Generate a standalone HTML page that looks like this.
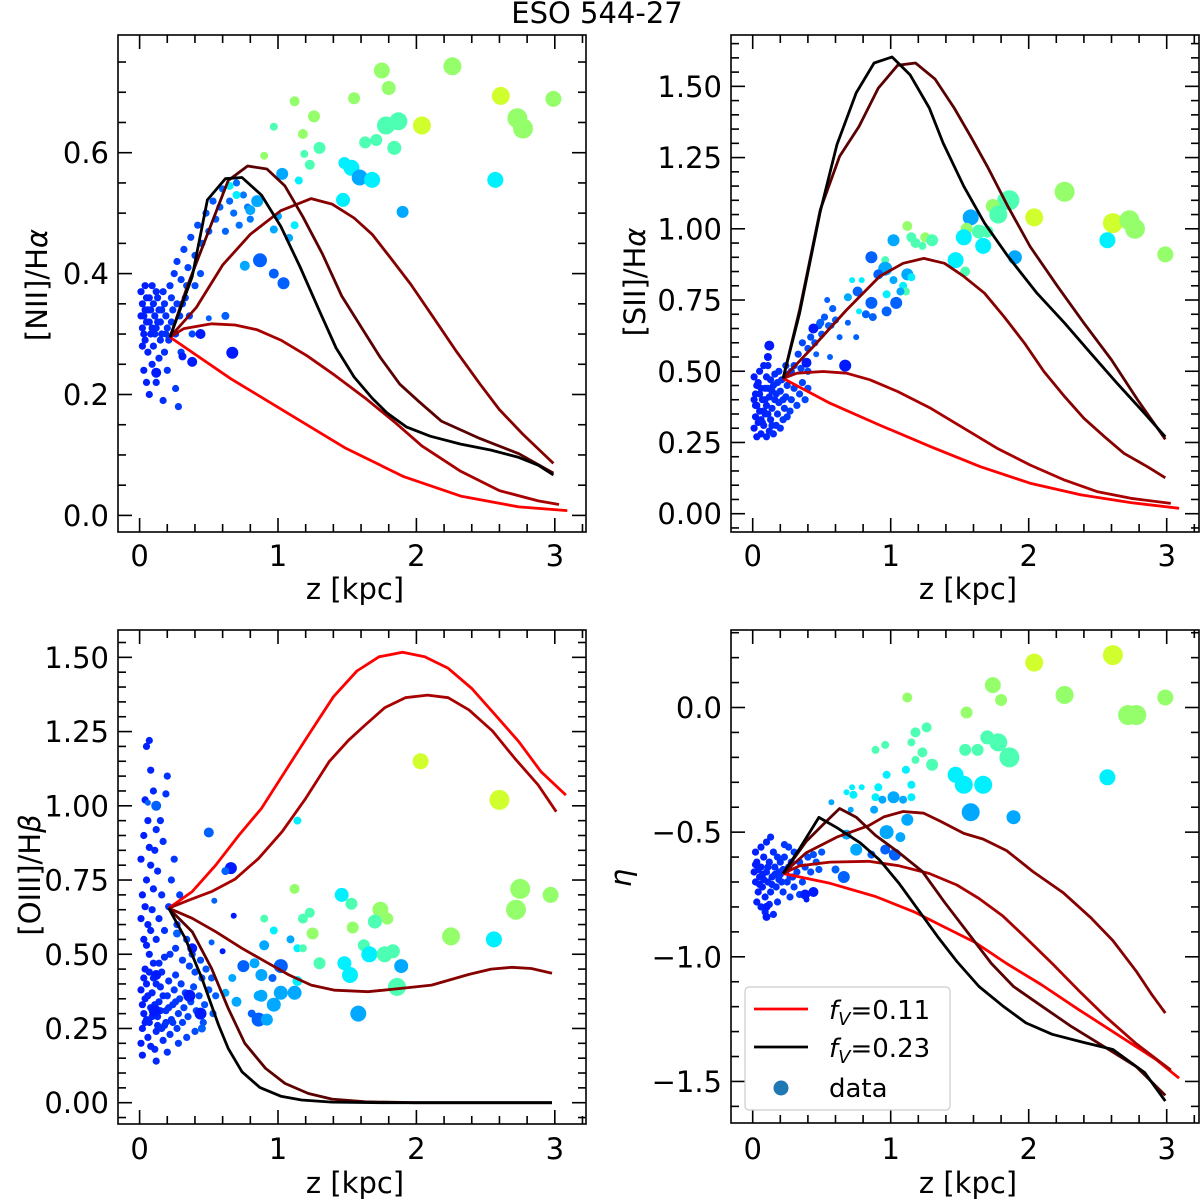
<!DOCTYPE html>
<html><head><meta charset="utf-8"><style>
html,body{margin:0;padding:0;background:#fff;}
svg{display:block;font-family:"DejaVu Sans","Liberation Sans",sans-serif;}
</style></head><body>
<svg id="fig" width="1200" height="1202" viewBox="0 0 1200 1202" xmlns="http://www.w3.org/2000/svg">
<text x="597" y="23" font-size="29" text-anchor="middle">ESO 544-27</text>
</svg>
<script>
// ---------- DATA ----------
// sparse points: [z, value, markerRadius, colourLevel]
const B=0.15,b=0.22,d=0.29,C=0.36,T=0.45,G=0.52,Y=0.58;
const n2Points=[[1.75,0.736,8,G],[2.26,0.743,9,G],[1.80,0.707,7,G],[2.61,0.694,9,Y],[2.99,0.689,8,G],[1.12,0.685,5,G],[1.55,0.690,6,G],[2.73,0.657,10,G],[2.77,0.640,10,G],[2.04,0.645,9,Y],[1.87,0.652,9,T],[1.78,0.645,9,T],[1.26,0.660,6,G],[0.97,0.643,4,T],[1.18,0.631,5,G],[1.71,0.621,6,T],[1.63,0.617,6,T],[1.84,0.608,7,T],[1.30,0.608,6,T],[1.19,0.598,4,T],[0.90,0.595,4,G],[1.23,0.580,5,T],[1.48,0.583,6,C],[1.53,0.575,8,C],[1.59,0.559,8,d],[1.68,0.555,8,C],[2.57,0.555,8,C],[1.03,0.565,6,d],[1.15,0.554,4,C],[1.47,0.522,7,C],[1.90,0.502,6,d],[1.12,0.480,4,C],[0.87,0.422,7,b],[0.97,0.400,5,b],[1.04,0.384,6,b],[0.76,0.413,5,d],[0.67,0.269,6,B],[0.44,0.300,5,B],[0.38,0.254,5,B],[0.31,0.263,4,B],[0.12,0.236,5,B],[1.08,0.459,4,d],[0.97,0.473,4,d],[0.62,0.330,4,b],[0.50,0.326,3,b],[0.85,0.520,6,d],[0.80,0.505,5,d],[0.70,0.530,4,C],[0.65,0.545,4,C],[1.00,0.495,4,d]];
const s2Points=[[2.26,1.13,10,G],[2.04,1.04,9,Y],[2.61,1.02,10,Y],[2.73,1.03,10,G],[2.77,1.00,10,G],[2.57,0.96,8,C],[2.99,0.91,8,G],[1.86,1.10,10,T],[1.83,1.10,8,T],[1.74,1.08,7,G],[1.78,1.05,9,T],[1.58,1.04,8,d],[1.55,1.00,6,G],[1.64,0.99,7,T],[1.70,0.99,6,T],[1.53,0.97,8,C],[1.67,0.94,8,C],[1.90,0.90,7,d],[1.47,0.89,8,C],[1.54,0.85,5,T],[1.12,1.01,5,G],[1.02,0.96,6,d],[1.15,0.97,5,T],[1.18,0.95,5,T],[1.25,0.97,5,G],[1.30,0.96,6,T],[1.23,0.94,4,T],[0.86,0.90,6,b],[0.96,0.89,4,T],[0.96,0.86,7,d],[0.91,0.84,5,b],[1.02,0.82,4,d],[1.12,0.84,6,d],[1.15,0.83,4,C],[1.09,0.80,4,C],[1.11,0.78,4,T],[1.07,0.78,4,d],[0.97,0.77,4,C],[0.76,0.78,5,b],[0.69,0.76,4,d],[0.72,0.82,3,C],[0.79,0.82,3,C],[0.86,0.74,6,b],[1.04,0.74,6,b],[0.97,0.71,5,b],[0.87,0.69,4,b],[0.82,0.70,4,b],[0.77,0.71,3,C],[0.54,0.75,3,b],[0.44,0.65,5,B],[0.67,0.52,6,B],[0.75,0.62,3,b],[0.12,0.59,5,B],[0.11,0.55,4,B],[0.39,0.53,5,B],[0.49,0.67,4,b],[0.57,0.66,3,b],[0.63,0.62,3,b],[0.69,0.67,3,b],[0.46,0.56,3,b],[0.56,0.55,3,b]];
const o3Points=[[2.03,1.15,8,Y],[2.60,1.02,10,Y],[2.75,0.72,10,G],[2.72,0.65,10,G],[2.97,0.70,8,G],[2.25,0.56,9,G],[2.56,0.55,8,C],[1.12,0.72,5,G],[1.46,0.70,7,C],[1.53,0.67,6,T],[1.74,0.65,8,G],[1.79,0.62,6,G],[1.70,0.61,7,T],[1.54,0.59,6,G],[1.23,0.64,5,T],[1.18,0.62,5,T],[0.90,0.62,4,T],[0.97,0.58,4,C],[1.25,0.57,6,G],[1.62,0.53,6,T],[1.66,0.50,8,C],[1.77,0.50,8,T],[1.83,0.51,7,T],[1.89,0.46,7,d],[1.48,0.47,7,C],[1.52,0.43,8,C],[1.30,0.47,6,T],[1.86,0.39,9,T],[1.58,0.30,8,d],[1.14,0.52,4,C],[1.18,0.52,4,T],[1.09,0.55,4,d],[1.14,0.95,4,C],[0.50,0.91,5,b],[0.66,0.79,6,B],[0.62,0.78,4,b],[0.54,0.68,3,b],[0.68,0.63,3,B],[0.12,1.00,5,b],[0.06,1.01,3,b],[0.27,0.57,4,b],[0.38,0.52,5,B],[0.52,0.54,3,b],[0.60,0.51,3,B],[0.75,0.46,6,b],[0.83,0.47,5,d],[0.90,0.53,5,d],[0.96,0.42,4,b],[1.02,0.46,7,b],[0.88,0.43,6,d],[0.88,0.36,6,d],[0.97,0.33,7,d],[1.02,0.37,7,d],[1.12,0.37,7,d],[1.14,0.41,5,C],[0.86,0.36,5,d],[0.70,0.34,5,d],[0.86,0.28,7,b],[0.92,0.28,6,d],[0.81,0.30,4,b],[0.44,0.30,6,B],[0.45,0.25,4,b],[0.11,0.31,6,B],[0.12,0.43,5,B],[0.36,0.36,6,B],[0.67,0.42,4,d],[0.62,0.37,4,d]];
const etaPoints=[[2.04,0.18,9,Y],[2.61,0.21,10,Y],[1.74,0.09,8,G],[1.80,0.03,6,G],[2.26,0.05,9,G],[2.99,0.04,8,G],[2.72,-0.03,10,G],[2.78,-0.03,10,G],[1.12,0.04,5,G],[1.55,-0.02,6,G],[1.26,-0.08,5,T],[1.18,-0.10,5,T],[1.70,-0.12,7,T],[1.78,-0.14,9,T],[1.86,-0.20,10,T],[1.63,-0.17,6,T],[1.54,-0.17,6,T],[0.89,-0.17,4,T],[0.96,-0.15,4,T],[1.15,-0.14,4,T],[1.23,-0.18,5,T],[1.18,-0.21,4,T],[1.30,-0.23,6,T],[1.11,-0.25,4,C],[0.97,-0.27,4,C],[1.47,-0.27,8,C],[1.53,-0.31,9,C],[1.67,-0.31,9,C],[2.57,-0.28,8,C],[1.15,-0.31,4,C],[0.91,-0.32,4,C],[0.72,-0.32,3,C],[0.79,-0.32,3,C],[0.68,-0.34,3,C],[0.73,-0.35,4,C],[0.89,-0.36,4,C],[0.94,-0.37,4,d],[1.02,-0.36,6,d],[1.09,-0.37,4,d],[1.15,-0.36,4,C],[1.58,-0.42,9,d],[1.89,-0.44,7,d],[1.12,-0.45,6,d],[0.57,-0.38,3,d],[0.71,-0.41,3,d],[0.88,-0.41,4,d],[0.97,-0.50,7,d],[1.07,-0.52,5,d],[0.68,-0.51,5,d],[0.75,-0.57,6,d],[0.86,-0.59,4,b],[0.96,-0.57,5,b],[1.03,-0.59,6,b],[0.66,-0.68,6,b],[0.60,-0.65,4,b],[0.44,-0.74,5,B],[0.38,-0.75,5,B],[0.10,-0.84,4,B],[0.10,-0.80,4,B],[0.39,-0.77,3,B]];
// dense small-marker clusters: [z, value]
const n2Cluster=[[0.01,0.37],[0.02,0.35],[0.03,0.33],[0.02,0.31],[0.04,0.29],[0.05,0.36],[0.06,0.34],[0.07,0.32],[0.08,0.30],[0.06,0.27],[0.09,0.38],[0.10,0.35],[0.11,0.33],[0.12,0.31],[0.10,0.28],[0.13,0.36],[0.14,0.34],[0.15,0.32],[0.16,0.30],[0.14,0.26],[0.17,0.37],[0.18,0.35],[0.19,0.33],[0.20,0.31],[0.21,0.29],[0.22,0.38],[0.23,0.36],[0.24,0.34],[0.25,0.40],[0.03,0.24],[0.05,0.22],[0.07,0.20],[0.12,0.22],[0.17,0.19],[0.20,0.24],[0.26,0.21],[0.28,0.18],[0.30,0.27],[0.09,0.25],[0.04,0.38],[0.27,0.42],[0.30,0.39],[0.32,0.44],[0.35,0.41],[0.37,0.46],[0.40,0.43],[0.42,0.48],[0.45,0.45],[0.48,0.50],[0.50,0.47],[0.53,0.52],[0.55,0.49],[0.58,0.51],[0.60,0.54],[0.62,0.47],[0.65,0.52],[0.68,0.50],[0.70,0.55],[0.72,0.48],[0.75,0.53],[0.78,0.51],[0.80,0.49],[0.33,0.36],[0.36,0.33],[0.40,0.38],[0.44,0.40],[0.38,0.30],[0.29,0.33],[0.31,0.35],[0.26,0.30],[0.01,0.33],[0.03,0.30],[0.05,0.32],[0.08,0.34],[0.11,0.30],[0.13,0.32],[0.16,0.34],[0.19,0.30],[0.02,0.28],[0.07,0.36],[0.12,0.37],[0.15,0.29],[0.18,0.27],[0.09,0.31],[0.04,0.34],[0.23,0.32],[0.27,0.35],[0.34,0.38]];
const s2Cluster=[[0.01,0.30],[0.02,0.34],[0.03,0.38],[0.02,0.42],[0.04,0.46],[0.05,0.50],[0.06,0.28],[0.07,0.32],[0.08,0.36],[0.07,0.40],[0.09,0.44],[0.10,0.48],[0.11,0.52],[0.12,0.29],[0.13,0.33],[0.14,0.37],[0.12,0.41],[0.15,0.45],[0.16,0.49],[0.17,0.31],[0.18,0.35],[0.19,0.39],[0.20,0.43],[0.21,0.47],[0.03,0.27],[0.10,0.27],[0.22,0.33],[0.23,0.37],[0.24,0.41],[0.25,0.45],[0.26,0.49],[0.27,0.36],[0.28,0.40],[0.30,0.44],[0.32,0.38],[0.34,0.42],[0.36,0.46],[0.38,0.40],[0.40,0.44],[0.05,0.36],[0.09,0.40],[0.14,0.43],[0.18,0.46],[0.06,0.44],[0.15,0.28],[0.20,0.30],[0.25,0.34],[0.01,0.48],[0.08,0.52],[0.30,0.52],[0.33,0.56],[0.36,0.60],[0.40,0.58],[0.42,0.62],[0.45,0.60],[0.48,0.66],[0.50,0.63],[0.52,0.69],[0.55,0.66],[0.58,0.72],[0.60,0.68],[0.28,0.50],[0.24,0.52],[0.35,0.51],[0.40,0.50],[0.11,0.35],[0.16,0.40],[0.04,0.32],[0.19,0.50],[0.13,0.47],[0.02,0.38],[0.05,0.42],[0.08,0.31],[0.11,0.44],[0.14,0.31],[0.17,0.42],[0.01,0.40],[0.03,0.45],[0.06,0.33],[0.09,0.35],[0.22,0.40],[0.10,0.38]];
const o3Cluster=[[0.01,0.20],[0.02,0.25],[0.03,0.30],[0.04,0.35],[0.05,0.40],[0.06,0.22],[0.07,0.27],[0.08,0.32],[0.09,0.37],[0.10,0.42],[0.11,0.18],[0.12,0.24],[0.13,0.29],[0.14,0.34],[0.15,0.39],[0.16,0.44],[0.17,0.21],[0.18,0.26],[0.19,0.31],[0.20,0.36],[0.21,0.41],[0.22,0.23],[0.23,0.28],[0.24,0.33],[0.25,0.38],[0.26,0.43],[0.27,0.25],[0.28,0.30],[0.29,0.35],[0.30,0.40],[0.31,0.27],[0.32,0.32],[0.33,0.37],[0.35,0.29],[0.37,0.34],[0.39,0.39],[0.41,0.31],[0.43,0.36],[0.45,0.42],[0.47,0.33],[0.50,0.38],[0.02,0.16],[0.05,0.28],[0.08,0.19],[0.04,0.45],[0.07,0.50],[0.03,0.55],[0.06,0.60],[0.09,0.65],[0.02,0.70],[0.05,0.75],[0.08,0.80],[0.11,0.85],[0.03,0.90],[0.06,0.95],[0.10,1.05],[0.04,1.02],[0.08,1.12],[0.05,1.20],[0.07,1.22],[0.12,0.55],[0.14,0.62],[0.16,0.70],[0.13,0.78],[0.17,0.88],[0.15,0.95],[0.19,1.04],[0.20,1.10],[0.18,0.58],[0.21,0.66],[0.23,0.75],[0.25,0.82],[0.22,0.50],[0.27,0.60],[0.29,0.70],[0.26,0.52],[0.31,0.48],[0.34,0.55],[0.36,0.46],[0.38,0.50],[0.12,0.14],[0.20,0.17],[0.10,0.47],[0.14,0.47],[0.18,0.49],[0.01,0.38],[0.01,0.62],[0.01,0.82],[0.40,0.44],[0.44,0.48],[0.48,0.45],[0.52,0.42],[0.55,0.36],[0.53,0.30],[0.46,0.27],[0.40,0.24],[0.34,0.22],[0.28,0.20],[0.02,0.33],[0.04,0.27],[0.06,0.36],[0.09,0.29],[0.11,0.33],[0.13,0.26],[0.15,0.31],[0.17,0.36],[0.19,0.27],[0.21,0.32],[0.24,0.27],[0.26,0.34],[0.03,0.42],[0.07,0.44],[0.12,0.40],[0.16,0.25],[0.08,0.58],[0.04,0.66],[0.10,0.72],[0.07,0.86],[0.12,0.92],[0.05,0.53]];
const etaCluster=[[0.01,-0.66],[0.02,-0.70],[0.03,-0.62],[0.04,-0.74],[0.05,-0.68],[0.06,-0.64],[0.07,-0.72],[0.08,-0.60],[0.09,-0.76],[0.10,-0.66],[0.11,-0.70],[0.12,-0.62],[0.13,-0.74],[0.14,-0.68],[0.15,-0.58],[0.16,-0.64],[0.17,-0.72],[0.18,-0.78],[0.19,-0.66],[0.20,-0.62],[0.21,-0.70],[0.22,-0.74],[0.23,-0.60],[0.24,-0.66],[0.25,-0.70],[0.26,-0.64],[0.27,-0.76],[0.28,-0.62],[0.29,-0.68],[0.30,-0.58],[0.32,-0.66],[0.34,-0.62],[0.36,-0.70],[0.38,-0.64],[0.40,-0.60],[0.42,-0.66],[0.03,-0.78],[0.06,-0.80],[0.09,-0.82],[0.12,-0.79],[0.15,-0.83],[0.02,-0.58],[0.06,-0.56],[0.10,-0.54],[0.13,-0.52],[0.08,-0.69],[0.04,-0.65],[0.16,-0.67],[0.20,-0.67],[0.18,-0.60],[0.23,-0.55],[0.26,-0.56],[0.30,-0.72],[0.34,-0.75],[0.44,-0.59],[0.46,-0.62],[0.50,-0.58],[0.48,-0.65],[0.05,-0.71],[0.11,-0.64],[0.14,-0.71],[0.19,-0.69],[0.22,-0.65],[0.07,-0.67],[0.02,-0.63],[0.27,-0.68]];
// model curves: [z, value]
const n2Models=[
 [[0.22,0.295],[0.66,0.226],[1.07,0.169],[1.49,0.111],[1.91,0.064],[2.32,0.032],[2.74,0.014],[3.09,0.008]],
 [[0.22,0.295],[0.32,0.309],[0.52,0.317],[0.69,0.315],[0.85,0.307],[1.02,0.29],[1.21,0.264],[1.41,0.232],[1.63,0.194],[1.85,0.153],[2.04,0.115],[2.32,0.073],[2.60,0.041],[2.88,0.024],[3.03,0.018]],
 [[0.22,0.295],[0.41,0.344],[0.60,0.414],[0.80,0.465],[1.02,0.504],[1.24,0.524],[1.39,0.515],[1.55,0.492],[1.68,0.465],[1.82,0.424],[1.96,0.382],[2.13,0.325],[2.29,0.271],[2.46,0.217],[2.60,0.175],[2.77,0.134],[2.99,0.086]],
 [[0.22,0.295],[0.35,0.382],[0.49,0.465],[0.64,0.554],[0.78,0.578],[0.92,0.573],[1.05,0.545],[1.18,0.494],[1.32,0.433],[1.46,0.363],[1.60,0.312],[1.74,0.261],[1.88,0.217],[2.02,0.188],[2.18,0.156],[2.46,0.127],[2.74,0.102],[2.99,0.07]],
 [[0.22,0.295],[0.38,0.395],[0.49,0.522],[0.62,0.557],[0.74,0.559],[0.88,0.53],[1.02,0.478],[1.16,0.411],[1.30,0.338],[1.42,0.277],[1.55,0.229],[1.68,0.194],[1.79,0.169],[1.93,0.146],[2.10,0.131],[2.32,0.118],[2.54,0.108],[2.74,0.096],[2.88,0.083],[2.99,0.067]]];
const s2Models=[
 [[0.22,0.475],[0.56,0.388],[0.92,0.311],[1.29,0.235],[1.65,0.165],[2.01,0.107],[2.38,0.066],[2.74,0.039],[3.09,0.019]],
 [[0.22,0.475],[0.32,0.493],[0.51,0.499],[0.68,0.493],[0.85,0.47],[1.05,0.429],[1.29,0.37],[1.53,0.30],[1.77,0.23],[2.01,0.171],[2.26,0.118],[2.50,0.077],[2.74,0.054],[3.03,0.036]],
 [[0.22,0.475],[0.44,0.587],[0.68,0.715],[0.92,0.833],[1.09,0.879],[1.24,0.896],[1.39,0.879],[1.53,0.833],[1.68,0.774],[1.82,0.692],[1.97,0.598],[2.11,0.499],[2.26,0.411],[2.40,0.335],[2.55,0.270],[2.69,0.212],[2.86,0.165],[2.99,0.126]],
 [[0.22,0.475],[0.34,0.715],[0.49,1.067],[0.63,1.254],[0.77,1.359],[0.91,1.494],[1.05,1.574],[1.18,1.582],[1.32,1.526],[1.46,1.424],[1.58,1.324],[1.70,1.219],[1.85,1.078],[2.01,0.938],[2.21,0.797],[2.40,0.669],[2.60,0.54],[2.79,0.399],[2.99,0.261]],
 [[0.22,0.475],[0.34,0.704],[0.49,1.061],[0.61,1.295],[0.75,1.477],[0.88,1.582],[1.01,1.603],[1.14,1.541],[1.28,1.424],[1.38,1.301],[1.53,1.149],[1.68,1.020],[1.85,0.903],[2.06,0.774],[2.26,0.669],[2.45,0.563],[2.64,0.458],[2.84,0.352],[2.99,0.27]]];
const o3Models=[
 [[0.21,0.655],[0.38,0.711],[0.55,0.80],[0.72,0.902],[0.88,0.991],[1.05,1.115],[1.22,1.238],[1.40,1.367],[1.57,1.454],[1.73,1.502],[1.90,1.517],[2.06,1.502],[2.23,1.463],[2.40,1.395],[2.57,1.306],[2.74,1.216],[2.90,1.115],[3.08,1.036]],
 [[0.21,0.655],[0.36,0.683],[0.52,0.711],[0.69,0.753],[0.86,0.823],[1.03,0.913],[1.20,1.025],[1.37,1.149],[1.51,1.221],[1.63,1.272],[1.77,1.330],[1.92,1.364],[2.08,1.373],[2.23,1.364],[2.38,1.323],[2.55,1.252],[2.71,1.160],[2.88,1.070],[3.01,0.980]],
 [[0.21,0.655],[0.38,0.621],[0.55,0.576],[0.74,0.520],[0.91,0.475],[1.08,0.430],[1.24,0.396],[1.41,0.379],[1.65,0.374],[1.89,0.385],[2.11,0.396],[2.38,0.432],[2.54,0.450],[2.69,0.456],[2.83,0.452],[2.98,0.436]],
 [[0.21,0.655],[0.38,0.576],[0.52,0.452],[0.64,0.318],[0.76,0.20],[0.91,0.116],[1.05,0.065],[1.22,0.031],[1.39,0.012],[1.63,0.003],[1.99,0],[2.98,0]],
 [[0.21,0.655],[0.33,0.553],[0.45,0.419],[0.57,0.262],[0.64,0.183],[0.74,0.104],[0.87,0.051],[1.02,0.022],[1.17,0.009],[1.39,0.002],[1.75,0],[2.98,0]]];
const etaModels=[
 [[0.22,-0.666],[0.56,-0.705],[0.89,-0.758],[1.17,-0.82],[1.39,-0.881],[1.61,-0.942],[1.84,-1.027],[2.09,-1.111],[2.36,-1.211],[2.64,-1.311],[2.92,-1.411],[3.09,-1.487]],
 [[0.22,-0.666],[0.34,-0.635],[0.56,-0.62],[0.84,-0.617],[1.06,-0.635],[1.28,-0.666],[1.48,-0.712],[1.64,-0.766],[1.81,-0.835],[1.97,-0.919],[2.17,-1.027],[2.36,-1.134],[2.56,-1.242],[2.78,-1.349],[3.03,-1.454]],
 [[0.22,-0.666],[0.39,-0.582],[0.61,-0.52],[0.84,-0.474],[0.95,-0.439],[1.09,-0.417],[1.24,-0.424],[1.36,-0.456],[1.53,-0.505],[1.67,-0.528],[1.84,-0.574],[2.03,-0.658],[2.25,-0.743],[2.45,-0.843],[2.61,-0.935],[2.78,-1.058],[2.89,-1.150],[2.99,-1.226]],
 [[0.22,-0.666],[0.39,-0.536],[0.53,-0.459],[0.63,-0.405],[0.75,-0.44],[0.89,-0.513],[1.06,-0.582],[1.23,-0.658],[1.39,-0.781],[1.56,-0.904],[1.73,-1.027],[1.89,-1.119],[2.09,-1.196],[2.31,-1.28],[2.56,-1.365],[2.78,-1.441],[2.99,-1.556]],
 [[0.22,-0.666],[0.34,-0.566],[0.48,-0.441],[0.61,-0.482],[0.78,-0.543],[0.92,-0.612],[1.06,-0.705],[1.20,-0.812],[1.34,-0.919],[1.48,-1.019],[1.64,-1.119],[1.81,-1.196],[1.98,-1.265],[2.17,-1.311],[2.39,-1.342],[2.61,-1.372],[2.84,-1.464],[2.99,-1.579]]];
const xTickLabels=["0","1","2","3"];
const legendLabels=["0.11","0.23","data"];

// ---------- RENDER ----------
const NS="http://www.w3.org/2000/svg";
const svg=document.getElementById('fig');
function mk(tag,attrs,parent){const e=document.createElementNS(NS,tag);for(const k in attrs)e.setAttribute(k,attrs[k]);(parent||svg).appendChild(e);return e;}
function jet(x){const c=v=>Math.round(255*Math.max(0,Math.min(1,v)));return `rgb(${c(1.5-Math.abs(4*x-3))},${c(1.5-Math.abs(4*x-2))},${c(1.5-Math.abs(4*x-1))})`;}
const modelColors=["#ff0000","#a80000","#860000","#5a0000","#000000"];
const panels=[
 {id:'nii',L:118,R:586,T:35,Bt:532,x0:139.6,xs:138.4,y0:515.4,ys:604.5,maj:0.2,min:0.05,dec:1,pts:n2Points,cl:n2Cluster,mod:n2Models,xl:566,xt:599},
 {id:'sii',L:731,R:1199,T:35,Bt:532,x0:752.7,xs:138,y0:513.7,ys:284.9,maj:0.25,min:0.05,dec:2,pts:s2Points,cl:s2Cluster,mod:s2Models,xl:566,xt:599},
 {id:'oiii',L:118,R:586,T:630,Bt:1124,x0:139.6,xs:138.4,y0:1102.7,ys:296.9,maj:0.25,min:0.05,dec:2,pts:o3Points,cl:o3Cluster,mod:o3Models,xl:1159,xt:1193},
 {id:'eta',L:731,R:1199,T:630,Bt:1123,x0:752.7,xs:138,y0:707.5,ys:249.3,maj:0.5,min:0.1,dec:1,pts:etaPoints,cl:etaCluster,mod:etaModels,xl:1159,xt:1193}
];
panels.forEach((p,pi)=>{
 const X=z=>p.x0+z*p.xs, Yf=v=>p.y0-v*p.ys;
 const g=mk('g',{});  
 const cp=mk('clipPath',{id:'clip'+pi},g); mk('rect',{x:p.L,y:p.T,width:p.R-p.L,height:p.Bt-p.T},cp);
 const pg=mk('g',{'clip-path':`url(#clip${pi})`},g);
  
 p.cl.forEach(c=>{const e=mk('circle',{cx:X(c[0]).toFixed(1),cy:Yf(c[1]).toFixed(1),r:3.6,fill:jet(0.15+0.12*c[0])},pg);
   });
 p.pts.forEach(c=>{const e=mk('circle',{cx:X(c[0]).toFixed(1),cy:Yf(c[1]).toFixed(1),r:c[2],fill:jet(c[3])},pg);
   });
 p.mod.forEach((m,mi)=>{const e=mk('polyline',{points:m.map(q=>X(q[0]).toFixed(1)+','+Yf(q[1]).toFixed(1)).join(' '),fill:'none',stroke:modelColors[mi],'stroke-width':2.8,'stroke-linejoin':'round'},pg);
   });
 const fr=mk('rect',{x:p.L,y:p.T,width:p.R-p.L,height:p.Bt-p.T,fill:'none',stroke:'#000','stroke-width':1.6},g);
  
 for(let i=-1;i<=16;i++){const z=i*0.2;const x=X(z);if(x<p.L+1||x>p.R-1)continue;const major=(i%5===0);const len=major?14:8;
  mk('line',{x1:x,y1:p.Bt,x2:x,y2:p.Bt-len,stroke:'#000','stroke-width':1.6},g);
  mk('line',{x1:x,y1:p.T,x2:x,y2:p.T+len,stroke:'#000','stroke-width':1.6},g);
  if(major){const t=mk('text',{x:x,y:p.xl,'font-size':29,'text-anchor':'middle'},g);t.textContent=xTickLabels[i/5];
    }}
 const ratio=Math.round(p.maj/p.min);
 for(let k=Math.floor(-2/p.min);k<=Math.ceil(2/p.min);k++){const v=k*p.min;const y=Yf(v);if(y<p.T+1||y>p.Bt-1)continue;const major=(k%ratio===0);const len=major?14:8;
  mk('line',{x1:p.L,y1:y,x2:p.L+len,y2:y,stroke:'#000','stroke-width':1.6},g);
  mk('line',{x1:p.R,y1:y,x2:p.R-len,y2:y,stroke:'#000','stroke-width':1.6},g);
  if(major){const t=mk('text',{x:p.L-9,y:y+10.5,'font-size':29,'text-anchor':'end'},g);t.textContent=v.toFixed(p.dec).replace('-','\u2212');
    }}
 const xl=mk('text',{x:(p.L+p.R)/2+3,y:p.xt,'font-size':29,'text-anchor':'middle'},g);xl.textContent='z [kpc]';
  
});
function ytitle(x,y,html,name){const t=mk('text',{x:0,y:0,'font-size':29,'text-anchor':'middle',transform:`translate(${x},${y}) rotate(-90)`});t.innerHTML=html;
  }
ytitle(47,285,'[NII]/H<tspan font-style="italic">α</tspan>','nii-y-axis-title');
ytitle(645,282,'[SII]/H<tspan font-style="italic">α</tspan>','sii-y-axis-title');
ytitle(40,875,'[OIII]/H<tspan font-style="italic">β</tspan>','oiii-y-axis-title');
ytitle(631,878,'<tspan font-style="italic">η</tspan>','eta-y-axis-title');
const lg=mk('g',{});  
mk('rect',{x:745,y:987,width:205,height:123,rx:4,fill:'#fff','fill-opacity':0.85,stroke:'#cccccc','stroke-width':1.2},lg);
[[1009,modelColors[0],0],[1047,'#000000',1]].forEach(e=>{
 const l=mk('line',{x1:754,y1:e[0],x2:808,y2:e[0],stroke:e[1],'stroke-width':2.8},lg);
  
 const t=mk('text',{x:829,y:e[0]+10,'font-size':26},lg);
 t.innerHTML=`<tspan font-style="italic">f</tspan><tspan font-style="italic" font-size="18" dy="6">V</tspan><tspan dy="-6">=${legendLabels[e[2]]}</tspan>`;
  });
const dm=mk('circle',{cx:781,cy:1088,r:7.5,fill:'#1f77b4'},lg);
 
const dt=mk('text',{x:829,y:1097,'font-size':26},lg);dt.textContent=legendLabels[2];
 
</script>
</body></html>
